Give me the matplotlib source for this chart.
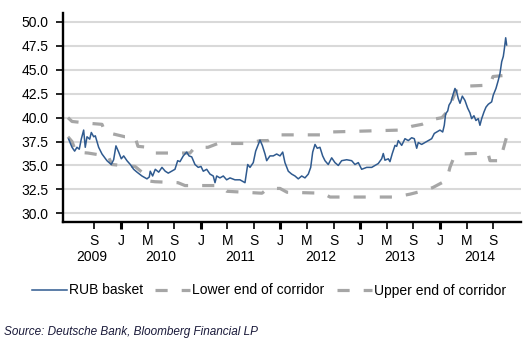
import matplotlib
matplotlib.use("Agg")
import matplotlib.pyplot as plt
import numpy as np

# ---------------- data (decimal years) ----------------
rub_x = [2009.344, 2009.386, 2009.419, 2009.448, 2009.477, 2009.502, 2009.532, 2009.552,
         2009.574, 2009.608, 2009.628, 2009.658, 2009.678, 2009.720, 2009.762, 2009.824,
         2009.878, 2009.908, 2009.937, 2009.971, 2010.004, 2010.034, 2010.075, 2010.117,
         2010.159, 2010.201, 2010.263, 2010.326, 2010.355, 2010.367, 2010.397, 2010.430,
         2010.473, 2010.514, 2010.555, 2010.593, 2010.636, 2010.677, 2010.711, 2010.740,
         2010.781, 2010.824, 2010.853, 2010.887, 2010.928, 2010.969, 2011.003, 2011.032,
         2011.075, 2011.116, 2011.157, 2011.179, 2011.200, 2011.241, 2011.283, 2011.325,
         2011.367, 2011.429, 2011.492, 2011.555, 2011.589, 2011.618, 2011.659, 2011.689,
         2011.743, 2011.772, 2011.806, 2011.827, 2011.868, 2011.910, 2011.952, 2011.994,
         2012.028, 2012.056, 2012.098, 2012.140, 2012.182, 2012.223, 2012.266, 2012.307,
         2012.349, 2012.379, 2012.404, 2012.433, 2012.461, 2012.495, 2012.529, 2012.558,
         2012.599, 2012.642, 2012.683, 2012.725, 2012.767, 2012.830, 2012.893, 2012.934,
         2012.976, 2013.018, 2013.081, 2013.144, 2013.185, 2013.226, 2013.269, 2013.289,
         2013.310, 2013.352, 2013.373, 2013.402, 2013.436, 2013.457, 2013.477, 2013.520,
         2013.561, 2013.603, 2013.645, 2013.678, 2013.708, 2013.728, 2013.770, 2013.812,
         2013.853, 2013.896, 2013.929, 2013.959, 2014.000, 2014.034, 2014.054, 2014.071,
         2014.097, 2014.113, 2014.138, 2014.167, 2014.188, 2014.209, 2014.229, 2014.251,
         2014.280, 2014.313, 2014.347, 2014.376, 2014.397, 2014.426, 2014.451, 2014.480,
         2014.501, 2014.523, 2014.552, 2014.577, 2014.606, 2014.648, 2014.668, 2014.702,
         2014.731, 2014.752, 2014.774, 2014.794, 2014.806, 2014.824, 2014.836]
rub_y = [37.75, 36.9, 36.5, 36.9, 36.7, 37.75, 38.7, 36.9,
         38.0, 37.75, 38.45, 38.0, 38.1, 36.9, 36.2, 35.5,
         35.1, 35.6, 37.05, 36.4, 35.7, 36.0, 35.5, 35.1,
         34.6, 34.3, 33.9, 33.6, 33.8, 34.4, 33.9, 34.6,
         34.3, 34.8, 34.4, 34.2, 34.4, 34.6, 35.5, 35.4,
         36.0, 36.4, 36.0, 35.9, 35.1, 34.8, 34.9, 34.4,
         34.6, 34.1, 33.9, 33.2, 33.9, 33.7, 33.9, 33.5,
         33.7, 33.5, 33.5, 33.2, 35.1, 34.8, 35.3, 36.5,
         37.65, 37.1, 36.2, 35.5, 36.0, 36.0, 36.2, 36.0,
         36.4, 35.3, 34.4, 34.1, 33.9, 33.6, 33.9, 33.7,
         34.1, 34.8, 36.4, 37.2, 36.8, 36.9, 36.0, 35.5,
         35.1, 35.8, 35.3, 35.0, 35.5, 35.6, 35.5, 35.1,
         35.3, 34.6, 34.8, 34.8, 35.0, 35.2, 35.7, 36.25,
         35.55, 35.7, 35.4, 36.25, 37.1, 37.0, 37.6, 37.1,
         37.8, 37.6, 37.9, 37.8, 36.8, 37.4, 37.2, 37.4,
         37.6, 37.8, 38.35, 38.5, 38.7, 38.5, 39.2, 40.4,
         40.7, 41.3, 41.65, 42.5, 43.05, 42.7, 42.0, 41.5,
         42.25, 41.8, 41.0, 40.5, 39.9, 40.2, 39.7, 39.9,
         39.2, 39.9, 40.6, 41.1, 41.4, 41.65, 42.35, 43.05,
         43.9, 44.6, 45.85, 46.4, 47.1, 48.35, 47.6]

lower_x = [2009.335, 2009.386, 2009.436, 2009.586, 2009.737, 2009.837, 2009.887, 2010.013,
           2010.176, 2010.263, 2010.326, 2010.426, 2010.715, 2010.803, 2011.241, 2011.329,
           2011.768, 2011.843, 2011.994, 2012.082, 2012.533, 2012.621, 2013.436, 2013.624,
           2013.812, 2013.912, 2014.025, 2014.088, 2014.125, 2014.163, 2014.251, 2014.602,
           2014.627, 2014.752, 2014.853]
lower_y = [38.0, 37.5, 36.4, 36.3, 36.1, 36.0, 35.1, 35.0,
           34.9, 34.3, 33.4, 33.3, 33.2, 32.9, 32.9, 32.3,
           32.1, 32.6, 32.6, 32.2, 32.1, 31.7, 31.7, 32.0,
           32.4, 32.7, 33.2, 33.6, 34.8, 35.6, 36.2, 36.3,
           35.5, 35.5, 38.5]

upper_x = [2009.335, 2009.386, 2009.611, 2009.762, 2009.799, 2009.900, 2010.050, 2010.176,
           2010.213, 2010.339, 2010.414, 2010.865, 2010.928, 2011.091, 2011.216, 2011.618,
           2011.743, 2011.843, 2011.969, 2012.558, 2012.621, 2013.498, 2013.649, 2013.774,
           2013.900, 2014.025, 2014.088, 2014.150, 2014.213, 2014.351, 2014.627, 2014.665,
           2014.790]
upper_y = [40.0, 39.6, 39.4, 39.3, 38.5, 38.3, 38.0, 38.0,
           37.0, 36.9, 36.3, 36.3, 36.9, 36.9, 37.3, 37.3,
           37.6, 37.6, 38.2, 38.2, 38.5, 38.7, 39.1, 39.3,
           39.8, 40.0, 40.6, 41.8, 43.0, 43.3, 43.4, 44.3,
           44.4]

years = [2009, 2010, 2011, 2012, 2013, 2014]
month_letters = {1: "J", 5: "M", 9: "S"}
y_ticks = [30.0, 32.5, 35.0, 37.5, 40.0, 42.5, 45.0, 47.5, 50.0]

# ---------------- styling ----------------
FONT = "Liberation Sans"
plt.rcParams["font.family"] = [FONT, "DejaVu Sans"]
BLUE = "#2f5a8f"
GREY = "#a6a6a6"
GRID = "#d9d9d9"

fig = plt.figure(figsize=(5.31, 3.53), dpi=100)
ax = fig.add_axes([63 / 531, 1 - 222 / 353, (521 - 63) / 531, (222 - 13) / 353])

XMIN, XMAX = 2009.273, 2015.016
ax.set_xlim(XMIN, XMAX)
ax.set_ylim(29.09, 50.94)

# gridlines
ax.set_yticks(y_ticks)
ax.set_yticklabels([f"{v:.1f}" for v in y_ticks])
ax.yaxis.grid(True, color=GRID, linewidth=1.5)
ax.set_axisbelow(True)

dash = (3.8, 4.4)
l_low, = ax.plot(lower_x, lower_y, color=GREY, linewidth=2.3, dashes=dash,
                 label="Lower end of corridor", zorder=2)
l_up, = ax.plot(upper_x, upper_y, color=GREY, linewidth=2.3, dashes=dash,
                label="Upper end of corridor", zorder=2)
l_rub, = ax.plot(rub_x, rub_y, color=BLUE, linewidth=1.1, label="RUB basket", zorder=3)

# spines
for s in ["top", "right"]:
    ax.spines[s].set_visible(False)
for s in ["left", "bottom"]:
    ax.spines[s].set_linewidth(1.7)
    ax.spines[s].set_color("black")

ax.tick_params(axis="y", length=5, width=1.2, pad=5.5, labelsize=10, colors="black")

# x ticks: Jan (major), May, Sep — starting from Sep 2009
tick_pos, tick_lab, major_pos = [], [], []
for yr in years:
    for m, let in month_letters.items():
        p = yr + (m - 1) / 12
        if 2009.5 < p < XMAX - 0.05:
            tick_pos.append(p)
            tick_lab.append(let)
            if m == 1:
                major_pos.append(p)
ax.set_xticks(tick_pos)
ax.set_xticklabels(tick_lab)
ax.tick_params(axis="x", length=5, width=1.2, pad=3.8, labelsize=10, colors="black")
for t, p in zip(ax.xaxis.get_major_ticks(), tick_pos):
    if p in major_pos:
        t.tick1line.set_markeredgewidth(2.2)

# year labels centred on the visible part of each year
for yr in years:
    c = (max(yr, XMIN) + min(yr + 1, XMAX)) / 2
    ax.annotate(str(yr), xy=(c, 0), xycoords=("data", "axes fraction"),
                xytext=(0, -25.5), textcoords="offset points",
                ha="center", va="center", fontsize=10)

fig.legend(handles=[l_rub, l_low, l_up], loc="center",
           bbox_to_anchor=(269 / 531, 1 - 290.5 / 353), ncol=3, frameon=False,
           fontsize=10, handlelength=2.5, handletextpad=0.15, columnspacing=0.9,
           borderaxespad=0, borderpad=0)

fig.text(3.5 / 531, 1 - 332 / 353, "Source: Deutsche Bank, Bloomberg Financial LP",
         fontsize=8.5, style="italic", color="#1a1a3a", ha="left", va="center")

fig.savefig("out.png", dpi=100)
